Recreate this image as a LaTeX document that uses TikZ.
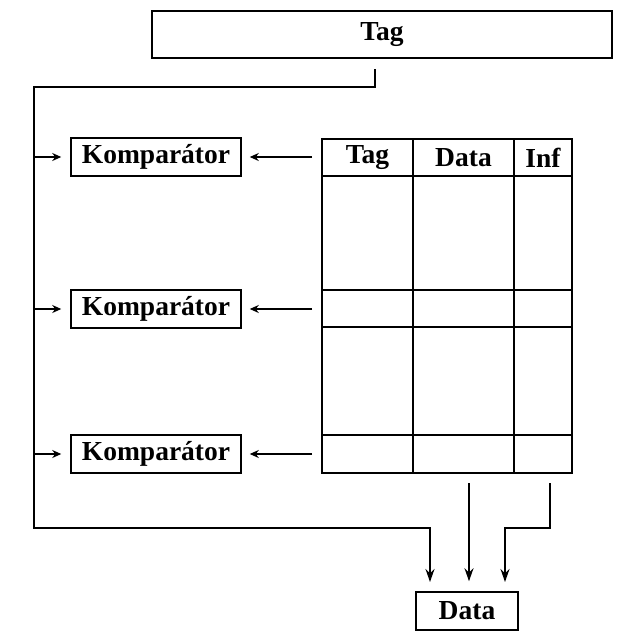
\documentclass[tikz,border=0pt]{standalone}
\usepackage{fontspec}
\setmainfont{Liberation Serif}
\usetikzlibrary{arrows.meta}
\begin{document}
\begin{tikzpicture}[x=1pt,y=-1pt,
  line width=1.5pt,
  box/.style={draw,rectangle,inner sep=0pt,font=\bfseries\fontsize{27.5}{29}\selectfont},
  cell/.style={rectangle,inner sep=0pt,font=\bfseries\fontsize{27.5}{29}\selectfont},
  small/.style={-{Stealth[length=9pt,width=8pt]}},
  big/.style={-{Stealth[length=13pt,width=9pt]}}]
\useasboundingbox (0,0) rectangle (623,640);
% top tag box
\node[box,minimum width=460pt,minimum height=47pt] (tagtop) at (382,34.5) {Tag};
% comparators
\node[box,minimum width=170pt,minimum height=38pt] (k1) at (156,157) {Komparátor};
\node[box,minimum width=170pt,minimum height=38pt] (k2) at (156,309) {Komparátor};
\node[box,minimum width=170pt,minimum height=38pt] (k3) at (156,454) {Komparátor};
% data box
\node[box,minimum width=102pt,minimum height=38pt] (data) at (467,611) {Data};
% table header cells
\node[cell,minimum width=91pt,minimum height=37pt] (h1) at (367.5,157.5) {Tag};
\node[cell,minimum width=101pt,minimum height=37pt] (h2) at (463.5,157.5) {Data};
\node[cell,minimum width=58pt,minimum height=37pt] (h3) at (543,157.5) {Inf};
% table grid
\draw (322,139) rectangle (572,473);
\draw (413,139) -- (413,473);
\draw (514,139) -- (514,473);
\foreach \yy in {176,290,327,435} \draw (322,\yy) -- (572,\yy);
% coordinates
\coordinate (tagout) at (375,69);
\coordinate (lcorner) at (34,87);
\coordinate (ldown) at (34,528);
\coordinate (t1) at (312,157);
\coordinate (t2) at (312,309);
\coordinate (t3) at (312,454);
\coordinate (dmid) at (469,483);
\coordinate (inf) at (550,483);
% main tag line
\draw[big] (tagout) -- (375,87) -- (lcorner) -- (ldown) -- (430,528) -- (430,582);
% branches to comparators
\foreach \k in {k1,k2,k3} \draw[small,shorten >=9pt] (lcorner |- \k.west) -- (\k.west);
% table to comparators
\draw[small,shorten >=8pt] (t1) -- (k1.east);
\draw[small,shorten >=8pt] (t2) -- (k2.east);
\draw[small,shorten >=8pt] (t3) -- (k3.east);
% to data
\draw[big,shorten >=10pt] (dmid) -- (dmid |- data.north);
\draw[big] (inf) -- (550,528) -- (505,528) -- (505,582);
\end{tikzpicture}
\end{document}
